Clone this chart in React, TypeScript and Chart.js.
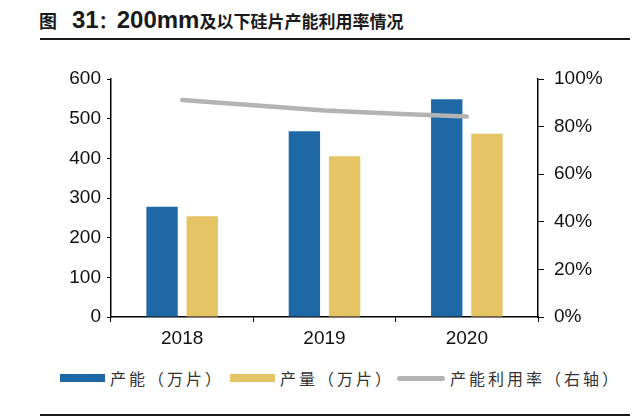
import { useEffect, useRef } from 'react'
import { Chart, registerables } from 'chart.js'
Chart.register(...registerables)

const YEARS = ['2018', '2019', '2020']
const CAPACITY = [278, 468, 549]        // 产能（万片）
const OUTPUT = [254, 405, 462]          // 产量（万片）
const UTILIZATION = [0.912, 0.868, 0.842] // 产能利用率（右轴）

const BLUE = '#1F68A6'
const YELLOW = '#E5C466'
const GRAY = '#B3B3B3'
const NUM_FONT = '"Liberation Sans", Arial, sans-serif'
const CJK_FONT = '"Noto Sans CJK SC", "Noto Sans", sans-serif'

const LEGEND = [
  { label: '产能（万片）', color: BLUE, kind: 'bar', left: 60 },
  { label: '产量（万片）', color: YELLOW, kind: 'bar', left: 230 },
  { label: '产能利用率（右轴）', color: GRAY, kind: 'line', left: 397 },
]

export default function App() {
  const ref = useRef<HTMLCanvasElement>(null)

  useEffect(() => {
    document.body.style.margin = '0'
    if (!ref.current) return
    const chart = new Chart(ref.current, {
      type: 'bar',
      data: {
        labels: YEARS,
        datasets: [
          { type: 'bar', label: '产能（万片）', data: CAPACITY, backgroundColor: BLUE, yAxisID: 'y', order: 1,
            categoryPercentage: 0.565, barPercentage: 0.78 },
          { type: 'bar', label: '产量（万片）', data: OUTPUT, backgroundColor: YELLOW, yAxisID: 'y', order: 1,
            categoryPercentage: 0.565, barPercentage: 0.78 },
          { type: 'line', label: '产能利用率（右轴）', data: UTILIZATION, borderColor: GRAY, borderWidth: 4.5,
            borderCapStyle: 'round', pointRadius: 0, tension: 0.2, yAxisID: 'y1', order: 0 },
        ] as any,
      },
      options: {
        responsive: false, animation: false,
        layout: { padding: { top: 29, left: 0, right: 0, bottom: 0 } },
        plugins: { legend: { display: false }, tooltip: { enabled: false } },
        scales: {
          x: {
            grid: { display: true, drawOnChartArea: false, drawTicks: true, tickLength: 5, color: '#000', offset: true },
            border: { display: true, color: '#000', width: 1.5 },
            ticks: { color: '#111', font: { family: NUM_FONT, size: 19 }, padding: 5 },
            afterFit: (s: any) => { s.height = 33 },
          },
          y: {
            position: 'left', min: 0, max: 600,
            grid: { display: true, drawOnChartArea: false, drawTicks: true, tickLength: 4, color: '#000' },
            border: { display: true, color: '#000', width: 1.5 },
            ticks: { stepSize: 100, color: '#111', font: { family: NUM_FONT, size: 19 }, padding: 6 },
            afterFit: (s: any) => { s.width = 111 },
          },
          y1: {
            position: 'right', min: 0, max: 1,
            grid: { display: true, drawOnChartArea: false, drawTicks: true, tickLength: 6, color: '#000' },
            border: { display: true, color: '#000', width: 1.5 },
            ticks: { stepSize: 0.2, color: '#111', font: { family: NUM_FONT, size: 19 }, padding: 10,
              callback: v => `${Math.round(Number(v) * 100)}%` },
            afterFit: (s: any) => { s.width = 102 },
          },
        },
      },
    })
    return () => chart.destroy()
  }, [])

  const num = { fontFamily: NUM_FONT, fontSize: 24 }
  return (
    <div style={{ position: 'relative', width: 640, height: 420, background: '#fff', overflow: 'hidden' }}>
      <div style={{ position: 'absolute', left: 39, top: 4, fontFamily: CJK_FONT, fontWeight: 700, fontSize: 17, color: '#1a1a1a', whiteSpace: 'nowrap', lineHeight: '32px' }}>
        <span style={{ fontSize: 18, marginRight: 15 }}>图</span>
        <span style={num}>31</span>
        <span style={{ fontSize: 18 }}>：</span>
        <span style={num}>200mm</span>
        <span>及以下硅片产能利用率情况</span>
      </div>
      <div style={{ position: 'absolute', left: 40, top: 38, width: 590, height: 2, background: '#1a1a1a' }} />
      <canvas ref={ref} width={640} height={300} style={{ position: 'absolute', left: 0, top: 50, width: 640, height: 300 }} />
      {LEGEND.map(l => (
        <div key={l.label} style={{ position: 'absolute', left: l.left, top: 366, height: 24, display: 'flex', alignItems: 'center', whiteSpace: 'nowrap' }}>
          <div style={{ width: l.kind === 'bar' ? 45 : 48, height: l.kind === 'bar' ? 8 : 5, background: l.color, borderRadius: l.kind === 'bar' ? 0 : 3 }} />
          <span style={{ marginLeft: 5, fontFamily: CJK_FONT, fontSize: 16, letterSpacing: 3, color: '#333' }}>{l.label}</span>
        </div>
      ))}
      <div style={{ position: 'absolute', left: 40, top: 414, width: 590, height: 2, background: '#1a1a1a' }} />
    </div>
  )
}
